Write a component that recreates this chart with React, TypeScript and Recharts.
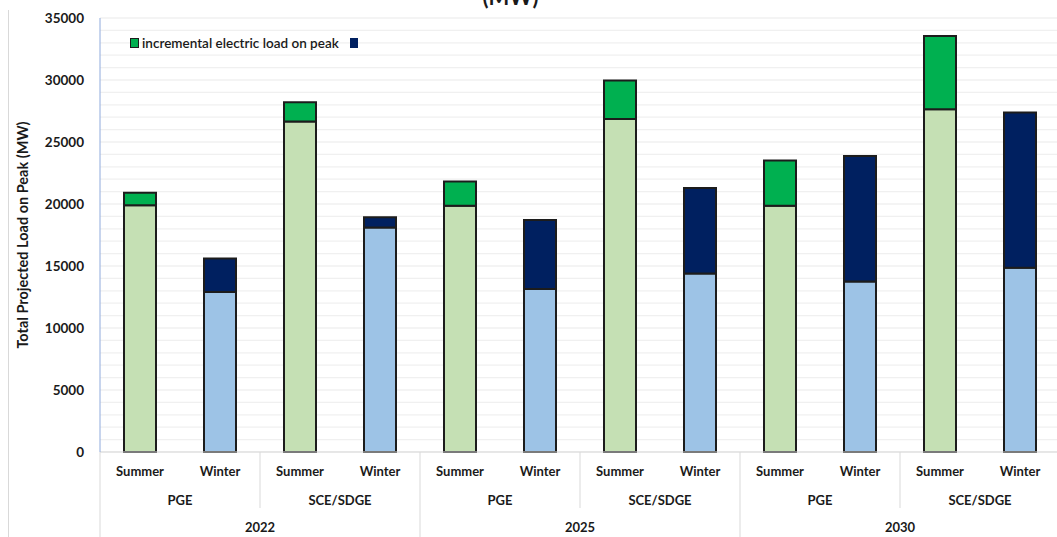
import React from 'react';
import { BarChart, Bar, XAxis, YAxis, CartesianGrid, Cell } from 'recharts';

const seasons = ['Summer', 'Winter', 'Summer', 'Winter', 'Summer', 'Winter', 'Summer', 'Winter', 'Summer', 'Winter', 'Summer', 'Winter'];
const regions = ['PGE', 'PGE', 'SCE/SDGE', 'SCE/SDGE', 'PGE', 'PGE', 'SCE/SDGE', 'SCE/SDGE', 'PGE', 'PGE', 'SCE/SDGE', 'SCE/SDGE'];
const years = ['2022', '2022', '2022', '2022', '2025', '2025', '2025', '2025', '2030', '2030', '2030', '2030'];
const baseLoad = [19900, 12900, 26650, 18100, 19850, 13150, 26850, 14400, 19850, 13750, 27650, 14850];
const totalLoad = [20900, 15600, 28200, 18930, 21820, 18700, 29950, 21300, 23500, 23870, 33550, 27380];
const incremental = totalLoad.map((t, i) => t - baseLoad[i]);
const majorTicks = [0, 5000, 10000, 15000, 20000, 25000, 30000, 35000];
const minorTicks = Array.from({ length: 36 }, (_, i) => i * 1000);

const data = seasons.map((s, i) => ({
  key: `${years[i]}-${regions[i]}-${s}`,
  season: s,
  region: regions[i],
  year: years[i],
  base: baseLoad[i],
  inc: incremental[i],
}));

const W = 1057;
const H = 537;
const M = { top: 18, right: -3, bottom: 0, left: 0 };
const YW = 100;
const XH = 85;
const BW = (W - M.left - M.right - YW) / data.length;
const FONT = 'Lato, "Open Sans", sans-serif';

const colors = {
  summerBase: '#c5e0b4',
  summerInc: '#00b050',
  winterBase: '#9dc3e6',
  winterInc: '#002060',
};

const XTick = (props: any) => {
  const { x, y, payload } = props;
  const i: number = props.index ?? payload?.index ?? 0;
  const d = data[i];
  const top = y - 8;
  const els: any[] = [];
  els.push(
    <text key="s" x={x} y={top + 24} textAnchor="middle" fontFamily={FONT} fontWeight={700} fontSize={13} fill="#1a1a1a">
      {d.season}
    </text>
  );
  if (i % 2 === 0) {
    els.push(
      <text key="r" x={x + BW / 2} y={top + 53} textAnchor="middle" fontFamily={FONT} fontWeight={700} fontSize={13} fill="#1a1a1a">
        {d.region}
      </text>
    );
    const left = x - BW / 2;
    if (i % 4 === 0) {
      els.push(<line key="ly" x1={left} x2={left} y1={top} y2={H} stroke="#d9d9d9" strokeWidth={1} />);
      els.push(
        <text key="y" x={x + BW * 1.5} y={top + 80} textAnchor="middle" fontFamily={FONT} fontWeight={700} fontSize={13} fill="#1a1a1a">
          {d.year}
        </text>
      );
    } else {
      els.push(<line key="lr" x1={left} x2={left} y1={top} y2={top + 56} stroke="#d9d9d9" strokeWidth={1} />);
    }
  }
  return <g>{els}</g>;
};

const YTick = (props: any) => {
  const { x, y, payload } = props;
  if (payload.value % 5000 !== 0) return <g />;
  return (
    <text x={x - 8} y={y + 4.5} textAnchor="end" fontFamily={FONT} fontWeight={700} fontSize={13.5} fill="#1a1a1a">
      {payload.value}
    </text>
  );
};

const majorGen = (args: any) => {
  try {
    const scale = args?.yAxis?.scale;
    if (scale) return majorTicks.map((v) => scale(v));
  } catch (e) {}
  return [];
};

export default function App() {
  return (
    <div style={{ position: 'absolute', left: 0, top: 0, width: W, height: H, background: '#fff', overflow: 'hidden' }}>
      <BarChart width={W} height={H} data={data} margin={M} barSize={32} style={{ fontFamily: FONT }}>
        <CartesianGrid vertical={false} stroke="#f0f0f0" strokeWidth={1.3} />
        <CartesianGrid vertical={false} stroke="#dedede" strokeWidth={1.3} horizontalCoordinatesGenerator={majorGen} />
        <XAxis
          dataKey="key"
          interval={0}
          height={XH}
          tickLine={false}
          axisLine={{ stroke: '#d9d9d9' }}
          tick={<XTick />}
        />
        <YAxis
          width={YW}
          domain={[0, 35000]}
          ticks={minorTicks}
          interval={0}
          tickLine={false}
          axisLine={{ stroke: '#8faadc' }}
          tick={<YTick />}
          label={{
            value: 'Total Projected Load on Peak (MW)',
            angle: -90,
            position: 'insideLeft',
            dx: 18,
            dy: 0,
            style: { textAnchor: 'middle', fontFamily: FONT, fontWeight: 700, fontSize: 14.5, fill: '#1a1a1a' },
          }}
        />
        <Bar dataKey="base" stackId="a" stroke="#1c1c1c" strokeWidth={2} isAnimationActive={false}>
          {data.map((d, i) => (
            <Cell key={i} fill={d.season === 'Summer' ? colors.summerBase : colors.winterBase} />
          ))}
        </Bar>
        <Bar dataKey="inc" stackId="a" stroke="#1c1c1c" strokeWidth={2} isAnimationActive={false}>
          {data.map((d, i) => (
            <Cell key={i} fill={d.season === 'Summer' ? colors.summerInc : colors.winterInc} />
          ))}
        </Bar>
      </BarChart>
      <div
        style={{
          position: 'absolute',
          left: 0,
          right: 0,
          top: -16,
          textAlign: 'center',
          paddingRight: 36,
          fontFamily: FONT,
          fontWeight: 700,
          fontSize: 22,
          color: '#1a1a1a',
          lineHeight: '26px',
        }}
      >
        (MW)
      </div>
      <div style={{ position: 'absolute', left: 8, top: 10, width: 1, height: H - 10, background: '#d9d9d9' }} />
      <div
        style={{
          position: 'absolute',
          left: 130,
          top: 35,
          display: 'flex',
          alignItems: 'center',
          fontFamily: FONT,
          fontSize: 13.5,
          fontWeight: 600,
          color: '#1a1a1a',
          whiteSpace: 'nowrap',
        }}
      >
        <span style={{ display: 'inline-block', width: 7, height: 8, background: colors.summerInc, border: '1.5px solid #1c1c1c', marginRight: 3 }} />
        <span>incremental electric load on peak</span>
        <span style={{ display: 'inline-block', width: 8, height: 10, background: colors.winterInc, marginLeft: 11 }} />
      </div>
    </div>
  );
}
